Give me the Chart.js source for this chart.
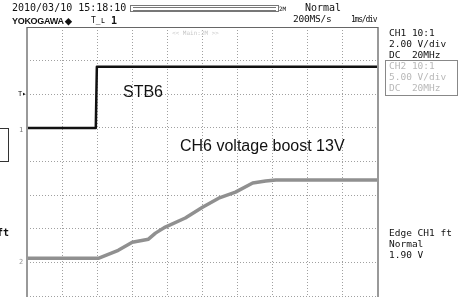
<!DOCTYPE html>
<html><head><meta charset="utf-8">
<script src="https://cdn.jsdelivr.net/npm/chart.js@4"></script>
<style>
html,body{margin:0;padding:0;background:#fff;}
#wrap{position:relative;width:465px;height:297px;overflow:hidden;background:#fff;}
canvas{position:absolute;left:0;top:0;}
.t{position:absolute;white-space:pre;font-family:"DejaVu Sans Mono",monospace;font-size:10px;color:#111;line-height:10px;}
.g{color:#b8b8b8;}
.ann{position:absolute;white-space:pre;font-family:"Liberation Sans",Arial,sans-serif;font-size:16px;color:#111;line-height:16px;}
</style></head>
<body><div id="wrap"><canvas id="c" width="465" height="297"></canvas>
<div class="t" style="left:12px;top:3px;">2010/03/10 15:18:10</div>
<div class="t" style="left:12px;top:16px;font-family:'Liberation Sans',Arial,sans-serif;font-weight:bold;font-size:9px;letter-spacing:-0.3px;">YOKOGAWA ◆</div>
<div class="t" style="left:91px;top:16px;font-size:8px;">T̲ʟ</div>
<div class="t" style="left:111px;top:16px;font-weight:bold;">1</div>
<div style="position:absolute;left:130px;top:5px;width:147px;height:5px;border:1px solid #777;"><div style="position:absolute;left:2px;top:1px;right:2px;height:2px;border-top:1px solid #777;border-bottom:1px solid #777;"></div></div>
<div class="t" style="left:279px;top:4px;font-size:6px;">2M</div>
<div class="t" style="left:305px;top:3px;">Normal</div>
<div class="t" style="left:293px;top:14px;font-size:9.5px;letter-spacing:-0.2px;">200MS/s</div>
<div class="t" style="left:351px;top:15px;font-size:8px;letter-spacing:-1.2px;">1ms/div</div>
<div class="t g" style="left:172px;top:28px;font-size:6px;color:#c8c8c8;">&lt;&lt; Main:2M &gt;&gt;</div>
<div class="t" style="left:389px;top:28px;font-size:9.5px;">CH1 10:1</div>
<div class="t" style="left:389px;top:39px;font-size:9.5px;">2.00 V/div</div>
<div class="t" style="left:389px;top:50px;font-size:9.5px;">DC  20MHz</div>
<div style="position:absolute;left:385px;top:60px;width:71px;height:34px;border:1px solid #888;"></div>
<div class="t g" style="left:389px;top:61px;font-size:9.5px;">CH2 10:1</div>
<div class="t g" style="left:389px;top:72px;font-size:9.5px;">5.00 V/div</div>
<div class="t g" style="left:389px;top:83px;font-size:9.5px;">DC  20MHz</div>
<div class="t" style="left:389px;top:228px;font-size:9.5px;">Edge CH1 ft</div>
<div class="t" style="left:389px;top:239px;font-size:9.5px;">Normal</div>
<div class="t" style="left:389px;top:250px;font-size:9.5px;">1.90 V</div>
<div class="t" style="left:18px;top:89px;font-size:7px;">T▸</div>
<div class="t" style="left:19px;top:125px;font-size:7px;color:#777;">1</div>
<div class="t" style="left:19px;top:257px;font-size:7px;color:#999;">2</div>
<div style="position:absolute;left:-10px;top:128px;width:17px;height:32px;border:1px solid #333;"></div>
<div class="t" style="left:-3px;top:228px;font-weight:bold;">ft</div>
<div class="ann" style="left:123px;top:84px;">STB6</div>
<div class="ann" style="left:180px;top:138px;">CH6 voltage boost 13V</div>
</div>
<script>
// time in divisions (1 ms/div), level in divisions
const ch1Time  = [0, 1.96, 1.99, 10];
const ch1Level = [5.0, 5.0, 6.82, 6.82];
const ch2Time  = [0, 1.66, 2.03, 2.6, 3.0, 3.46, 3.66, 3.94, 4.51, 5.0, 5.46, 5.94, 6.43, 6.8, 7.09, 10];
const ch2Level = [1.12, 1.12, 1.12, 1.36, 1.6, 1.69, 1.87, 2.05, 2.32, 2.64, 2.91, 3.09, 3.36, 3.42, 3.45, 3.45];
const xDivs = 10, yDivs = 8;

const pts = (xs, ys) => xs.map((x, i) => ({x, y: ys[i]}));

const frame = {
  id: 'frame',
  afterDraw(chart) {
    const {ctx, chartArea: a} = chart;
    ctx.save();
    ctx.strokeStyle = '#999';
    ctx.lineWidth = 2;
    ctx.beginPath();
    ctx.moveTo(a.left, a.bottom + 5); ctx.lineTo(a.left, a.top);
    ctx.moveTo(a.right, a.top); ctx.lineTo(a.right, a.bottom + 5);
    ctx.stroke();
    ctx.lineWidth = 1;
    ctx.strokeStyle = '#666';
    ctx.beginPath();
    ctx.moveTo(a.left, a.top + 0.5); ctx.lineTo(a.right, a.top + 0.5);
    ctx.stroke();
    ctx.restore();
  }
};

const gridOpts = {color: '#a0a0a0', lineWidth: 1, drawTicks: false};
new Chart(document.getElementById('c'), {
  type: 'scatter',
  data: {
    datasets: [
      {data: pts(ch2Time, ch2Level), showLine: true, borderColor: '#909090', borderWidth: 3.5, pointRadius: 0, tension: 0},
      {data: pts(ch1Time, ch1Level), showLine: true, borderColor: '#111', borderWidth: 2.5, pointRadius: 0, tension: 0}
    ]
  },
  options: {
    responsive: false, animation: false, devicePixelRatio: 1,
    layout: {padding: {left: 27, right: 87, top: 27, bottom: 1}},
    plugins: {legend: {display: false}, tooltip: {enabled: false}},
    scales: {
      x: {type: 'linear', min: 0, max: xDivs, ticks: {display: false, stepSize: 1},
          border: {display: false, dash: [1, 2]}, grid: gridOpts},
      y: {type: 'linear', min: 0, max: yDivs, ticks: {display: false, stepSize: 1},
          border: {display: false, dash: [1, 2]}, grid: gridOpts}
    },
    elements: {line: {borderJoinStyle: 'round', borderCapStyle: 'butt'}}
  },
  plugins: [frame]
});
</script>
</body></html>
